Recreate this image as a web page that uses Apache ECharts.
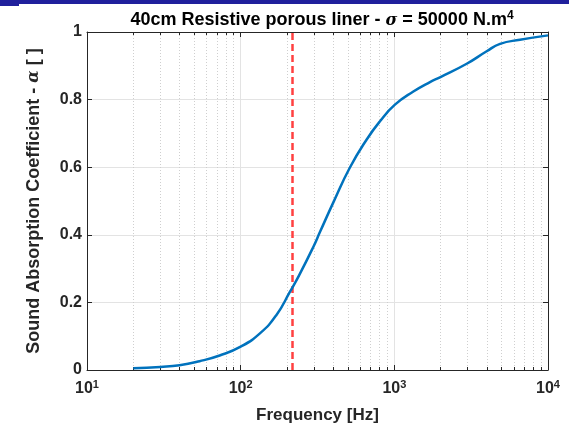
<!DOCTYPE html>
<html>
<head>
<meta charset="utf-8">
<script src="https://cdn.jsdelivr.net/npm/echarts@6/dist/echarts.min.js"></script>
<style>html,body{margin:0;padding:0;background:#fff;}#c{width:569px;height:429px;}</style>
</head>
<body>
<div id="c"></div>
<script>
const freq = [20, 30, 40, 54, 73, 100, 134, 171, 209, 240, 297, 328, 401, 514, 661, 807, 1009, 1330, 1706, 1982, 2957, 3990, 4874, 6577, 10000];
const alpha = [0.005, 0.009, 0.014, 0.026, 0.043, 0.069, 0.109, 0.163, 0.231, 0.280, 0.364, 0.408, 0.496, 0.599, 0.682, 0.736, 0.785, 0.824, 0.852, 0.866, 0.906, 0.943, 0.965, 0.977, 0.990];
const markerFreq = 216;
const xTicks = [10, 100, 1000, 10000];
const yTicks = [0, 0.2, 0.4, 0.6, 0.8, 1];

const chart = echarts.init(document.getElementById('c'), null, {renderer: 'canvas'});
const txt = '#262626';
const font = 'Liberation Sans, Arial, Helvetica, sans-serif';

const xAxisBase = {
  type: 'log', logBase: 10, min: 10, max: 10000,
  axisLine: {show: true, onZero: false, lineStyle: {color: txt, width: 1}},
  axisTick: {show: true, inside: true, length: 5, lineStyle: {color: txt}},
  minorTick: {show: true, splitNumber: 9, length: 3, lineStyle: {color: txt}},
  splitLine: {show: false}
};
const option = {
  animation: false,
  backgroundColor: '#fff',
  graphic: [
    {type: 'rect', shape: {x: 0, y: 0, width: 569, height: 4}, style: {fill: '#20209c'}},
    {type: 'rect', shape: {x: 0, y: 0, width: 19, height: 6}, style: {fill: '#20209c'}}
  ],
  title: {
    text: '{a|40cm Resistive porous liner - }{s|σ}{a| = 50000 N.m}{p|4}',
    left: 317, top: 5, textAlign: 'center',
    textStyle: {
      rich: {
        a: {fontFamily: font, fontWeight: 'bold', fontSize: 18, color: '#000'},
        s: {fontFamily: 'DejaVu Serif, serif', fontStyle: 'italic', fontSize: 16, color: '#000'},
        p: {fontFamily: font, fontWeight: 'bold', fontSize: 12, color: '#000', verticalAlign: 'top', padding: [0,0,9,0]}
      }
    }
  },
  grid: {left: 87, right: 21, top: 32, bottom: 57, containLabel: false},
  xAxis: [
    Object.assign({}, xAxisBase, {
      position: 'bottom',
      name: 'Frequency [Hz]', nameLocation: 'middle', nameGap: 37,
      nameTextStyle: {fontFamily: font, fontWeight: 'bold', fontSize: 17, color: txt},
      axisLabel: {
        margin: 9,
        formatter: v => '{b|10}{p|' + Math.round(Math.log10(v)) + '}',
        rich: {
          b: {fontFamily: font, fontWeight: 'bold', fontSize: 16, color: txt},
          p: {fontFamily: font, fontWeight: 'bold', fontSize: 11, color: txt, verticalAlign: 'top', padding: [0,0,9,0]}
        }
      },
      splitLine: {show: true, lineStyle: {color: '#e3e3e3', width: 1}},
      minorSplitLine: {show: true, lineStyle: {color: '#cfcfcf', type: [1, 2], width: 1}}
    }),
    Object.assign({}, xAxisBase, {position: 'top', axisLabel: {show: false}})
  ],
  yAxis: [
    {
      type: 'value', min: 0, max: 1, interval: 0.2,
      name: 'Sound Absorption Coefficient - {s|α} [ ]', nameLocation: 'middle', nameGap: 44,
      nameTextStyle: {fontFamily: font, fontWeight: 'bold', fontSize: 18, color: txt,
        rich: {s: {fontFamily: 'DejaVu Serif, serif', fontStyle: 'italic', fontSize: 16, color: txt}}},
      axisLine: {show: true, lineStyle: {color: txt}},
      axisTick: {show: true, inside: true, length: 5, lineStyle: {color: txt}},
      axisLabel: {fontFamily: font, fontWeight: 'bold', fontSize: 16, color: txt, margin: 5,
        formatter: v => String(+v.toFixed(1))},
      splitLine: {show: true, lineStyle: {color: '#e3e3e3', width: 1}}
    },
    {
      type: 'value', min: 0, max: 1, interval: 0.2, position: 'right',
      axisLine: {show: true, lineStyle: {color: txt}},
      axisTick: {show: true, inside: true, length: 5, lineStyle: {color: txt}},
      axisLabel: {show: false}, splitLine: {show: false}
    }
  ],
  series: [{
    type: 'line',
    data: freq.map((f, i) => [f, alpha[i]]),
    smooth: 0.5,
    showSymbol: false,
    lineStyle: {color: '#0072bd', width: 2.5},
    z: 5,
    markLine: {
      silent: true, symbol: ['none', 'none'], label: {show: false},
      lineStyle: {color: '#ff4040', width: 2.5, type: [7, 4]},
      data: [[{coord: [markerFreq, 0]}, {coord: [markerFreq, 1]}]]
    }
  }]
};
chart.setOption(option);
</script>
</body>
</html>
